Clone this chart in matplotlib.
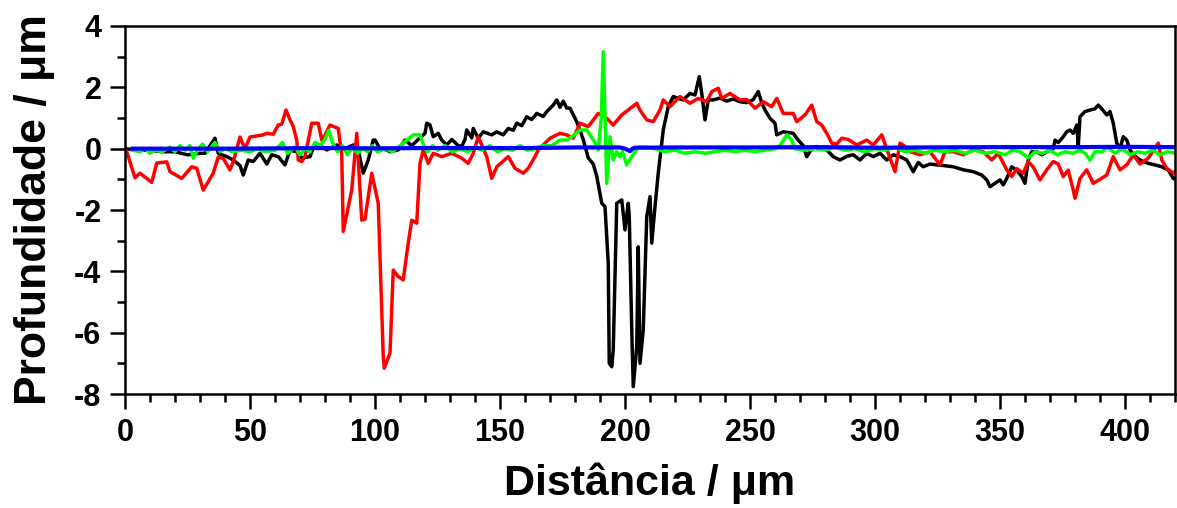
import numpy as np
import matplotlib.pyplot as plt
from matplotlib.ticker import MultipleLocator

plt.rcParams['font.family'] = ['Liberation Sans', 'DejaVu Sans']
plt.rcParams['font.weight'] = 'bold'
plt.rcParams['axes.unicode_minus'] = False

# profile data
black_x = [0, 5, 10, 15, 20, 25, 30, 32, 36, 37.3, 40.7, 43.3, 46, 47.3, 49.3, 51.3, 54, 56.7, 58.7, 61.3,
           64, 66, 68.7, 70.7, 74, 76, 78, 80.7, 84.7, 88, 91.3, 93, 95.3, 97.3, 99.3, 100, 102, 104.7,
           106, 109.3, 112, 114.7, 117.3, 120, 120.7, 122, 123.3, 125.3, 126.7, 128.7, 130.7, 133.3,
           134.7, 136, 136.7, 138.7, 139.3, 141.3, 143.3, 146.7, 148.7, 151.3, 153.3, 155.3, 156.7,
           158.7, 160.7, 162.7, 164.7, 167.3, 168.7, 171.3, 172.7, 174, 175.3, 176.7, 178, 180.7, 183.3,
           185.3, 187.3, 188.7, 190.7, 192, 193.3, 193.7, 194.7, 195.3, 196.7, 198.7, 200, 201.3, 201.7,
           202.7, 203.3, 204.7, 205.3, 206, 207.3, 208.7, 210, 210.7, 212, 213.3, 215.3, 217.3, 219.3,
           221, 223.3, 226, 228, 229.7, 230.7, 232, 233.3, 235.3, 238, 240.7, 243.3, 246, 248.7, 251.3,
           253.3, 254.7, 256, 258, 260, 260.7, 263.3, 267.3, 269.3, 271.3, 272.7, 274.7, 276.7, 280.7,
           283.3, 286, 288.7, 291.3, 294, 296.7, 299.3, 302, 304.7, 307.3, 310, 312.7, 315.3, 317.3,
           319.3, 322, 324.7, 327.3, 331.3, 335.3, 339.3, 342.7, 344.7, 346, 348, 350, 351.3, 352.7,
           354.7, 356.7, 358.7, 360, 361.3, 362.7, 364.7, 366.7, 368.7, 371.3, 372, 373.3, 375.3, 376.7,
           378, 379.3, 380.7, 381.3, 382, 384, 386, 388, 389.3, 390.7, 392.7, 394, 395.3, 396.7, 398,
           399.3, 400.7, 402, 403.3, 406, 409.3, 412, 414.7, 417.3, 419.3, 420]
black_y = [0.0, -0.05, -0.05, -0.1, -0.1, -0.2, -0.15, -0.15, 0.34, -0.15, -0.26, -0.37, -0.55, -0.86, -0.37,
           -0.42, -0.15, -0.5, -0.2, -0.26, -0.53, -0.05, -0.1, -0.3, -0.26, 0.18, 0.1, -0.04, 0.12, 0.0,
           0.12, 0.05, -0.8, -0.37, 0.28, 0.28, 0.0, -0.04, -0.1, -0.04, 0.28, 0.1, 0.3, 0.5, 0.83, 0.77,
           0.39, 0.5, 0.28, 0.12, 0.3, 0.1, 0.07, 0.3, 0.61, 0.35, 0.66, 0.34, 0.55, 0.45, 0.55, 0.45,
           0.66, 0.6, 0.83, 0.75, 1.04, 0.95, 1.15, 1.05, 1.21, 1.42, 1.59, 1.35, 1.55, 1.32, 1.32, 0.88,
           0.3, -0.3, -0.5, -0.9, -1.78, -1.89, -3.74, -7.0, -7.11, -6.56, -1.78, -1.67, -2.65, -1.78,
           -2.2, -5.91, -7.76, -6.46, -3.2, -7.0, -5.91, -2.22, -1.56, -3.08, -1.89, -0.8, 0.61, 1.37,
           1.7, 1.65, 1.59, 1.8, 1.75, 2.35, 1.8, 0.94, 1.59, 1.59, 1.65, 1.55, 1.62, 1.53, 1.5, 1.6,
           1.86, 1.5, 1.26, 0.99, 0.83, 0.45, 0.55, 0.5, 0.28, 0.1, -0.26, 0.0, 0.07, -0.04, -0.26,
           -0.37, -0.25, -0.2, -0.37, -0.15, -0.26, -0.15, -0.37, -0.2, -0.26, -0.37, -0.75, -0.45,
           -0.59, -0.5, -0.53, -0.55, -0.59, -0.69, -0.75, -0.86, -1.02, -1.24, -1.13, -1.02, -1.18,
           -0.97, -0.59, -0.7, -0.91, -1.13, -0.37, -0.1, -0.1, -0.2, -0.1, 0.0, 0.28, 0.2, 0.39, 0.55,
           0.61, 0.5, 0.77, 0.07, 1.04, 1.21, 1.26, 1.3, 1.42, 1.3, 1.1, 1.21, 0.83, 0.18, 0.0, 0.39,
           0.28, -0.04, -0.2, -0.37, -0.48, -0.53, -0.59, -0.69, -0.97, -1.0]

red_x = [0, 0.7, 4, 6, 10.7, 12.7, 16.7, 18, 22.7, 26.7, 28.7, 31.3, 35.3, 37.3, 39.3, 42, 43.3, 46, 48, 50,
         55.3, 56.7, 59.3, 61.3, 62.7, 64.4, 66, 67.3, 68.7, 69.3, 70.7, 72, 74.7, 77.3, 78.7, 80, 82, 85.3,
         86.7, 87.3, 90.7, 92.7, 94.7, 96, 98.7, 101.3, 103.3, 103.7, 106, 107.3, 109.3, 111.3, 113.3,
         114.7, 116.7, 118, 119.3, 121.3, 123.3, 126.7, 130.7, 134.7, 137.3, 139.3, 141.3, 144.7, 146.7,
         148.7, 153.3, 156, 159.3, 161.3, 164, 165.3, 170, 174, 176.7, 179.3, 182, 185.3, 189.3, 192.7,
         195.3, 198.7, 201.3, 204.7, 206, 207.3, 208.7, 211.3, 214, 215.3, 218, 222, 226, 229.3, 232.7,
         234.7, 237.3, 238.7, 242, 246, 248.7, 252, 255.3, 258.7, 260.7, 263.3, 267.3, 268.7, 272, 274.7,
         276.7, 278.7, 280.7, 282.7, 284.7, 286.7, 289.3, 292.7, 296.7, 299.3, 302.7, 305.3, 308, 310,
         311.3, 314, 318, 322, 326, 328, 331.3, 335.3, 339.3, 343.3, 346.7, 349.3, 352.7, 354.7, 356.7,
         359.3, 361.3, 363.3, 366, 368.7, 371.3, 373.3, 375.3, 377.3, 379.3, 380, 382, 384.7, 387.3, 390,
         392.7, 395.3, 398, 400.7, 403.3, 406, 409.3, 413.3, 414.7, 416.7, 419.3, 420]
red_y = [0.0, -0.1, -0.95, -0.8, -1.1, -0.47, -0.43, -0.75, -0.97, -0.59, -0.64, -1.35, -0.8, -0.27, -0.32,
         -0.69, -0.43, 0.38, 0.0, 0.38, 0.45, 0.5, 0.47, 0.77, 0.8, 1.26, 0.94, 0.72, 0.28, -0.37, -0.42,
         -0.26, 0.83, 0.83, 0.28, 0.44, 0.77, 0.66, -0.2, -2.7, -1.35, 0.5, -2.33, -2.3, -0.8, -1.78, -6.78,
         -7.16, -6.67, -3.96, -4.17, -4.28, -3.08, -2.33, -2.43, -0.48, -0.04, -0.48, -0.15, -0.26, -0.15,
         -0.31, -0.48, -0.15, 0.39, -0.26, -0.97, -0.59, -0.26, -0.64, -0.8, -0.64, -0.26, -0.04, 0.34, 0.5,
         0.45, 0.34, 0.83, 0.72, 1.15, 0.99, 0.77, 1.1, 1.26, 1.48, 1.26, 1.1, 0.94, 0.88, 1.26, 1.59, 1.37,
         1.7, 1.48, 1.64, 1.53, 1.86, 1.97, 1.64, 1.8, 1.59, 1.6, 1.32, 1.53, 1.37, 1.64, 1.15, 1.15, 0.88,
         1.1, 1.42, 0.88, 0.77, 0.5, 0.18, 0.15, 0.34, 0.3, 0.12, 0.28, 0.12, 0.45, -0.15, -0.75, 0.18,
         0.12, -0.1, -0.2, -0.1, -0.53, -0.1, -0.1, -0.2, -0.04, -0.1, -0.37, -0.15, -0.69, -0.91, -0.65,
         -0.8, -0.42, -0.6, -1.02, -0.69, -0.42, -0.5, -0.91, -0.7, -1.35, -1.62, -0.97, -0.69, -1.13,
         -1.0, -0.86, -0.26, -0.69, -0.53, -0.2, -0.5, -0.31, 0.18, -0.37, -0.64, -0.8, -0.75]

green_x = [3, 6, 8, 10, 12, 15, 18, 20, 22, 24, 26, 27.3, 29, 31, 33, 36, 38, 40, 43, 46, 50, 53, 56, 60, 63,
           65, 68, 70, 72, 74, 76, 78, 80, 81.5, 83, 85, 87, 89, 91, 93, 95, 97, 99, 101, 104, 107, 110,
           113, 115.3, 118, 119.5, 121, 123, 125, 128, 131, 134, 137, 140, 143, 146, 149, 152, 155, 158,
           161, 164, 167, 170.7, 174, 176.7, 179, 182, 184.7, 186, 188, 189.3, 190.5, 191.3, 192.2, 192.7,
           193.5, 194, 195.3, 196.7, 198, 199, 200.7, 202.7, 205.3, 208, 212, 216, 220, 224, 228, 232, 236,
           240, 244, 248, 252, 256, 260, 262, 264.7, 266.5, 268, 272, 276, 280, 284, 288, 292, 296, 300,
           304, 308, 312, 316, 320, 324, 328, 332, 336, 340, 344, 348, 352, 355, 358, 361.3, 364, 367, 370,
           373, 376, 379, 382, 384, 386, 388, 391, 393, 396, 399, 402, 405, 408, 411, 414, 417, 420]
green_y = [-0.05, -0.1, 0.0, -0.15, -0.05, -0.1, 0.05, -0.1, 0.1, -0.05, 0.1, -0.31, -0.05, 0.15, -0.1, 0.2,
           -0.1, 0.0, -0.1, -0.05, -0.1, 0.0, -0.1, -0.05, 0.2, -0.15, 0.05, -0.2, 0.0, -0.1, 0.2, 0.1, 0.3,
           0.6, 0.2, -0.1, 0.1, -0.2, 0.05, -0.15, 0.0, -0.1, 0.1, -0.1, 0.0, -0.1, 0.1, 0.3, 0.45, 0.45,
           0.1, -0.1, 0.1, -0.05, 0.1, -0.1, 0.0, -0.1, 0.05, -0.05, 0.1, -0.1, 0.0, -0.05, 0.1, -0.05, 0.0,
           0.1, 0.1, 0.28, 0.28, 0.4, 0.61, 0.61, 0.45, 0.2, -0.04, 1.0, 3.16, 0.5, -1.13, -0.2, 0.39, -0.37,
           -0.1, -0.26, -0.1, -0.53, -0.26, 0.05, 0.05, 0.0, -0.1, -0.05, -0.15, -0.1, -0.15, -0.1, -0.05,
           -0.1, -0.05, -0.1, -0.05, 0.0, 0.1, 0.45, 0.3, 0.0, -0.05, 0.0, -0.05, 0.05, -0.05, 0.0, -0.1,
           0.0, -0.05, 0.05, -0.1, -0.05, -0.15, -0.05, -0.1, -0.05, -0.15, -0.05, -0.15, -0.1, -0.2, -0.05,
           -0.1, -0.3, -0.1, -0.15, -0.05, -0.2, -0.1, -0.15, -0.05, -0.15, -0.37, -0.1, -0.1, 0.05, -0.15,
           0.0, -0.2, -0.1, -0.15, -0.05, -0.2, -0.1, -0.15]

blue_x = [3, 20, 40, 60, 80, 100, 120, 140, 160, 180, 198, 200, 202, 203, 204, 220, 250, 280, 300, 320, 350,
          380, 400, 420]
blue_y = [0.0, 0.0, 0.0, 0.01, 0.02, 0.01, 0.02, 0.02, 0.02, 0.04, 0.04, 0.0, -0.08, 0.0, 0.03, 0.04, 0.04,
          0.05, 0.03, 0.04, 0.05, 0.05, 0.06, 0.05]

fig = plt.figure(figsize=(11.77, 5.08), dpi=100)
ax = fig.add_axes([125 / 1177, 114 / 508, 1050 / 1177, 368 / 508])

ax.plot(black_x, black_y, color='black', lw=2.5)
ax.plot(red_x, red_y, color='#ff0000', lw=2.5)
ax.plot(green_x, green_y, color='#00ff00', lw=2.5)
ax.plot(blue_x, blue_y, color='#0000ff', lw=3.0)

ax.set_xlim(0, 420)
ax.set_ylim(-8, 4)
ax.xaxis.set_major_locator(MultipleLocator(50))
ax.xaxis.set_minor_locator(MultipleLocator(10))
ax.yaxis.set_major_locator(MultipleLocator(2))
ax.yaxis.set_minor_locator(MultipleLocator(1))

for s in ax.spines.values():
    s.set_linewidth(1.8)
ax.tick_params(which='both', direction='out', top=False, right=False, width=1.8)
ax.tick_params(which='major', length=11, labelsize=22, pad=6)
ax.tick_params(which='minor', length=6)
for lab in ax.get_xticklabels() + ax.get_yticklabels():
    lab.set_fontweight('bold')

ax.set_xlabel('Distância / μm', fontsize=31, fontweight='bold', labelpad=11)
ax.set_ylabel('Profundidade / μm', fontsize=32, fontweight='bold', labelpad=14)

fig.savefig('out.png', dpi=100)
